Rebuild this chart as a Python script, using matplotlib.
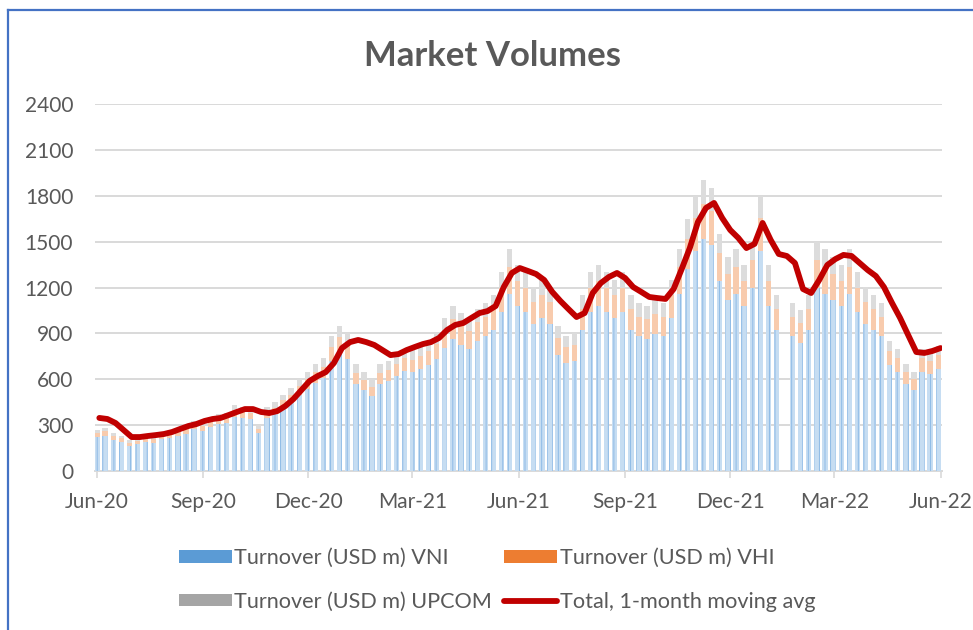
import matplotlib
matplotlib.use("Agg")
import matplotlib.pyplot as plt
import numpy as np
import pandas as pd
from matplotlib.patches import Patch
from matplotlib.lines import Line2D

plt.rcParams['font.family'] = ['Lato', 'DejaVu Sans']
plt.rcParams['hatch.linewidth'] = 0.7

# ---- data (weekly) ----
weeks = pd.date_range('2020-06-15', periods=105, freq='7D')  # Monday of each week

vni = [222, 230, 205, 190, 165, 178, 190, 185, 206, 218,
       230, 243, 272, 263, 288, 305, 313, 355, 346, 338,
       247, 346, 370, 412, 445, 494, 535, 575, 608, 720,
       775, 735, 572, 532, 490, 572, 588, 620, 652, 645,
       668, 692, 730, 805, 865, 825, 800, 848, 880, 920,
       1040, 1160, 1080, 1040, 960, 1000, 960, 760, 705, 720,
       920, 1040, 1080, 1040, 1000, 1040, 920, 880, 865, 896,
       880, 1000, 1160, 1320, 1440, 1520, 1480, 1240, 1120, 1160,
       1080, 1200, 1440, 1080, 920, 0, 880, 840, 920, 1200,
       1160, 1120, 1080, 1160, 1040, 960, 920, 880, 690, 650,
       570, 530, 650, 635, 668]

vhi = [28, 30, 26, 23, 20, 21, 23, 22, 25, 27,
       28, 30, 33, 32, 35, 37, 38, 43, 42, 41,
       30, 42, 45, 50, 54, 60, 65, 70, 75, 90,
       100, 95, 72, 66, 62, 72, 75, 80, 84, 82,
       86, 90, 98, 115, 128, 122, 118, 126, 130, 137,
       155, 172, 160, 155, 143, 150, 143, 113, 105, 107,
       137, 155, 160, 155, 150, 155, 137, 130, 128, 133,
       130, 150, 172, 197, 215, 228, 222, 185, 168, 172,
       160, 180, 215, 160, 137, 0, 130, 125, 137, 180,
       172, 168, 160, 172, 155, 143, 137, 130, 95, 90,
       78, 72, 90, 87, 92]

upcom = [20, 20, 19, 17, 15, 16, 17, 18, 19, 20,
         22, 22, 25, 25, 27, 28, 29, 32, 32, 31,
         23, 32, 35, 38, 41, 46, 50, 55, 57, 70,
         75, 70, 56, 52, 48, 56, 57, 60, 64, 63,
         66, 68, 72, 80, 87, 83, 82, 86, 90, 93,
         105, 118, 110, 105, 97, 100, 97, 77, 70, 73,
         93, 105, 110, 105, 100, 105, 93, 90, 87, 91,
         90, 100, 118, 133, 145, 152, 148, 125, 112, 118,
         110, 120, 145, 110, 93, 0, 90, 85, 93, 120,
         118, 112, 110, 118, 105, 97, 93, 90, 65, 60,
         52, 48, 60, 58, 60]

ma_total = [347, 340, 314, 268, 222, 222, 229, 235, 242, 255,
            275, 294, 307, 327, 340, 347, 366, 386, 405, 405,
            386, 379, 392, 425, 471, 530, 589, 621, 647, 706,
            804, 843, 857, 843, 824, 791, 758, 765, 791, 811,
            830, 843, 870, 922, 955, 968, 1001, 1033, 1046, 1079,
            1203, 1295, 1327, 1308, 1288, 1249, 1171, 1112, 1059, 1007,
            1033, 1164, 1229, 1269, 1295, 1262, 1203, 1171, 1138, 1131,
            1125, 1190, 1321, 1458, 1628, 1720, 1753, 1655, 1576, 1524,
            1458, 1485, 1622, 1511, 1419, 1406, 1360, 1190, 1164, 1249,
            1347, 1386, 1413, 1406, 1360, 1314, 1275, 1203, 1099, 1001,
            889, 778, 772, 785, 804]

tick_dates = pd.to_datetime(['2020-06-17', '2020-09-17', '2020-12-17', '2021-03-17',
                             '2021-06-17', '2021-09-17', '2021-12-17', '2022-03-17',
                             '2022-06-17'])
tick_labels = ['Jun-20', 'Sep-20', 'Dec-20', 'Mar-21', 'Jun-21', 'Sep-21',
               'Dec-21', 'Mar-22', 'Jun-22']
y_ticks = [0, 300, 600, 900, 1200, 1500, 1800, 2100, 2400]

series_names = ['Turnover (USD m) VNI', 'Turnover (USD m) VHI',
                'Turnover (USD m) UPCOM', 'Total, 1-month moving avg']

# ---- figure ----
W, H = 973, 630
fig = plt.figure(figsize=(W / 100, H / 100), dpi=100)
ax = fig.add_axes([94.7 / W, 159 / H, 847 / W, 367 / H])

txt = '#595959'
grid_c = '#d9d9d9'

centers = weeks + pd.Timedelta(days=2)
vni_a = np.array(vni, dtype=float)
vhi_a = np.array(vhi, dtype=float)
up_a = np.array(upcom, dtype=float)

ax.bar(centers, vni_a, width=4.6, color='#c6ddf2', edgecolor='#8fbbe6',
       linewidth=0, hatch='|||', zorder=2)
ax.bar(centers, vhi_a, bottom=vni_a, width=4.6, color='#f8cbad',
       linewidth=0, zorder=2)
ax.bar(centers, up_a, bottom=vni_a + vhi_a, width=4.6, color='#dcdcdc',
       linewidth=0, zorder=2)

ax.plot(weeks + pd.Timedelta(days=4), ma_total, color='#c00000', lw=4.2,
        solid_joinstyle='round', solid_capstyle='round', zorder=4)

ax.set_xlim(pd.Timestamp('2020-06-15'), pd.Timestamp('2022-06-18'))
ax.set_ylim(0, 2400)
ax.set_yticks(y_ticks)
ax.set_yticklabels([str(v) for v in y_ticks])
ax.set_xticks(tick_dates)
ax.set_xticklabels(tick_labels)

ax.grid(axis='y', color=grid_c, lw=1.4, zorder=0)
ax.set_axisbelow(True)
for s in ['top', 'right', 'left']:
    ax.spines[s].set_visible(False)
ax.spines['bottom'].set_color(grid_c)
ax.spines['bottom'].set_linewidth(1.4)
ax.spines['bottom'].set_zorder(1)

ax.tick_params(axis='y', length=0, pad=15.5, labelsize=15, labelcolor=txt)
ax.tick_params(axis='x', length=5, width=1.2, color=grid_c, pad=10,
               labelsize=15, labelcolor=txt)

fig.text(492 / W, 1 - 56 / H, 'Market Volumes', ha='center', va='center',
         fontsize=25, fontweight='bold', color=txt)

handles = [Patch(facecolor='#5b9bd5', edgecolor='none'),
           Patch(facecolor='#a5a5a5', edgecolor='none'),
           Patch(facecolor='#ed7d31', edgecolor='none'),
           Line2D([0], [0], color='#c00000', lw=4.2, solid_capstyle='round')]
labels = [series_names[0], series_names[2], series_names[1], series_names[3]]
leg = fig.legend(handles, labels, ncol=2, loc='center',
                 bbox_to_anchor=(497 / W, 1 - 580 / H), frameon=False,
                 fontsize=15.6, handlelength=2.45, handleheight=0.5,
                 handletextpad=0.12, columnspacing=0.55, labelspacing=1.1)
for t in leg.get_texts():
    t.set_color(txt)

# chart border (left & top)
fig.add_artist(Line2D([8 / W, 8 / W], [0, 1 - 10 / H], transform=fig.transFigure,
                      color='#4472c4', lw=1.6))
fig.add_artist(Line2D([8 / W, 1], [1 - 10 / H, 1 - 10 / H], transform=fig.transFigure,
                      color='#4472c4', lw=1.6))

fig.savefig('out.png', dpi=100)
